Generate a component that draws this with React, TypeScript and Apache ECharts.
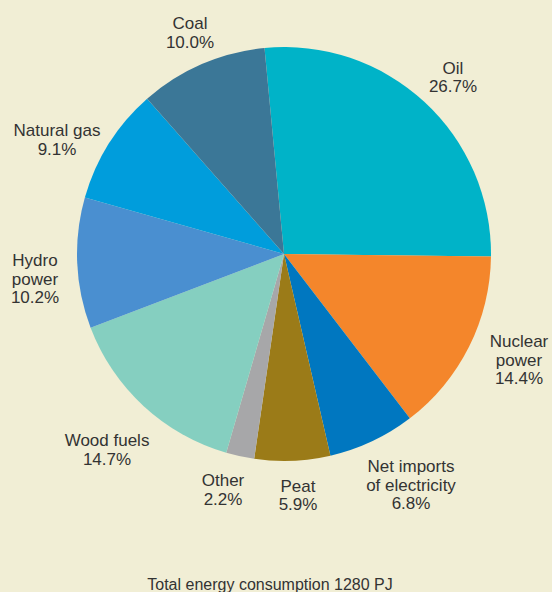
import React, { useEffect, useRef } from "react";
import * as echarts from "echarts";

const categories = [
  "Oil",
  "Nuclear\npower",
  "Net imports\nof electricity",
  "Peat",
  "Other",
  "Wood fuels",
  "Hydro\npower",
  "Natural gas",
  "Coal",
];
const shares = [26.7, 14.4, 6.8, 5.9, 2.2, 14.7, 10.2, 9.1, 10.0];
const sliceColors = [
  "#00b3c8",
  "#f4862b",
  "#0077c0",
  "#9b7b18",
  "#a7a7a9",
  "#85cfc0",
  "#4a8fd0",
  "#009ddc",
  "#3b7797",
];
const titleText = "Total energy consumption 1280 PJ";

// label anchor points (layout only)
const labelAnchors: [number, number][] = [
  [453, 77.5],
  [519, 360],
  [411, 485],
  [298, 495.5],
  [223, 490],
  [107, 450],
  [35, 279],
  [57, 140],
  [190, 33],
];

export default function App() {
  const ref = useRef<HTMLDivElement>(null);
  useEffect(() => {
    if (!ref.current) return;
    const chart = echarts.init(ref.current, null, { renderer: "svg" });
    chart.setOption({
      animation: false,
      backgroundColor: "#f1eed5",
      graphic: [
        {
          type: "text",
          x: 270,
          y: 584.5,
          style: {
            text: titleText,
            align: "center",
            verticalAlign: "middle",
            fontFamily: "Liberation Sans, Arial, sans-serif",
            fontSize: 16,
            fill: "#333333",
          },
        },
      ],
      series: [
        {
          type: "pie",
          center: [284, 254],
          radius: 207,
          startAngle: 95.4,
          clockwise: true,
          avoidLabelOverlap: false,
          itemStyle: { borderWidth: 0 },
          emphasis: { disabled: true },
          labelLine: { show: false },
          label: {
            show: true,
            position: "outside",
            formatter: (p: any) => `${p.name}\n${Number(p.value).toFixed(1)}%`,
            fontFamily: "Liberation Sans, Arial, sans-serif",
            fontSize: 17,
            lineHeight: 18.8,
            color: "#333333",
            align: "center",
          },
          labelLayout: (params: any) => {
            const a = labelAnchors[params.dataIndex];
            return { x: a[0], y: a[1], align: "center", verticalAlign: "middle" };
          },
          data: categories.map((name, i) => ({
            name,
            value: shares[i],
            itemStyle: { color: sliceColors[i] },
          })),
        },
      ],
    });
    return () => chart.dispose();
  }, []);
  return (
    <div
      ref={ref}
      style={{ position: "fixed", left: 0, top: 0, width: 552, height: 592 }}
    />
  );
}
